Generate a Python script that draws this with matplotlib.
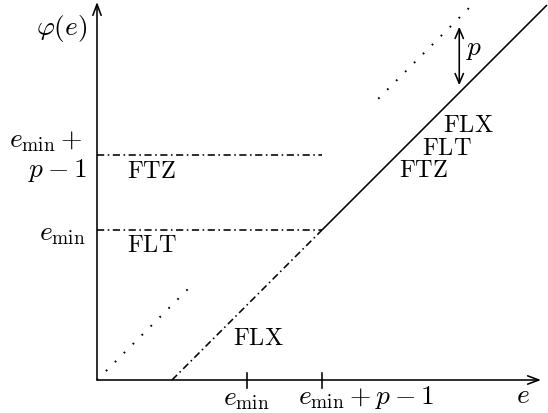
import matplotlib
matplotlib.use("Agg")
import matplotlib.pyplot as plt
import numpy as np

plt.rcParams['mathtext.fontset'] = 'cm'

# ---- data (in units where p-1 = 1) ----
emin = 2.0
p = 2.0
x_ticks = [emin, emin + p - 1]
x_tick_labels = [r'$e_{\min}$', r'$e_{\min} + p - 1$']
y_levels = [emin, emin + p - 1]
y_level_labels = [r'$e_{\min}$', r'$e_{\min}+$', r'$p-1$']
identity_low = [0.0, 1.25]
identity_high = [3.75, 5.0]
x_end = 6.0
mode_labels_right = ['FLX', 'FLT', 'FTZ']

FS = 17.5   # roman labels
MS = 19.8   # math labels
fig = plt.figure(figsize=(5.48, 4.14), dpi=100)
ax = fig.add_axes([0, 0, 1, 1])
ax.set_xlim(-97 / 75, (548 - 97) / 75)
ax.set_ylim(-(414 - 381) / 75, 381 / 75)
ax.axis('off')

lw = 1.15
dotted = (0, (0.9, 5.6))
dashdot = (0, (4.5, 2.2, 1.0, 2.2))

# axes arrows
arrow = dict(arrowstyle='->,head_length=0.8,head_width=0.3', lw=lw, color='black', shrinkA=0, shrinkB=0)
ax.annotate('', xy=(0, 5.04), xytext=(0, 0), arrowprops=arrow)
ax.annotate('', xy=(5.92, 0), xytext=(0, 0), arrowprops=arrow)

# identity (dotted)
ax.plot(identity_low, identity_low, color='black', lw=1.4, linestyle=dotted)
ax.plot(identity_high, identity_high, color='black', lw=1.4, linestyle=dotted)

# shifted line (dash-dot) and solid part
xs1 = np.array([p - 1, emin + p - 1])
ax.plot(xs1, xs1 - (p - 1), color='black', lw=lw, linestyle=dashdot)
xs2 = np.array([emin + p - 1, x_end])
ax.plot(xs2, xs2 - (p - 1), color='black', lw=lw, solid_capstyle='butt')

# horizontal levels
for yv in y_levels:
    ax.plot([0, emin + p - 1], [yv, yv], color='black', lw=lw, linestyle=dashdot)

# ticks
for xt in x_ticks:
    ax.plot([xt, xt], [-0.11, 0.09], color='black', lw=lw)

# p arrow
ax.annotate('', xy=(4.83, 4.71), xytext=(4.83, 3.93),
            arrowprops=dict(arrowstyle='<->,head_length=0.7,head_width=0.3', lw=lw,
                            color='black', shrinkA=0, shrinkB=0))
ax.text(4.92, 4.35, r'$p$', fontsize=MS, ha='left', va='baseline')

# labels
ax.text(-0.13, 4.61, r'$\varphi(e)$', fontsize=MS, ha='right', va='baseline')
ax.text(-0.2, 3.11, y_level_labels[1], fontsize=MS, ha='right', va='baseline')
ax.text(-0.133, 2.72, y_level_labels[2], fontsize=MS, ha='right', va='baseline')
ax.text(-0.147, 1.88, y_level_labels[0], fontsize=MS, ha='right', va='baseline')

ax.text(1.99, -0.33, x_tick_labels[0], fontsize=MS, ha='center', va='baseline')
ax.text(2.68, -0.31, x_tick_labels[1], fontsize=MS, ha='left', va='baseline')
ax.text(5.68, -0.29, r'$e$', fontsize=MS, ha='center', va='baseline')

ax.text(0.4, 2.71, r'$\mathrm{FTZ}$', fontsize=FS, ha='left', va='baseline')
ax.text(0.4, 1.72, r'$\mathrm{FLT}$', fontsize=FS, ha='left', va='baseline')
ax.text(1.81, 0.48, r'$\mathrm{FLX}$', fontsize=FS, ha='left', va='baseline')

ax.text(4.61, 3.32, r'$\mathrm{%s}$' % mode_labels_right[0], fontsize=FS, ha='left', va='baseline')
ax.text(4.33, 3.01, r'$\mathrm{%s}$' % mode_labels_right[1], fontsize=FS, ha='left', va='baseline')
ax.text(4.03, 2.72, r'$\mathrm{%s}$' % mode_labels_right[2], fontsize=FS, ha='left', va='baseline')

fig.savefig('out.png', dpi=100)
